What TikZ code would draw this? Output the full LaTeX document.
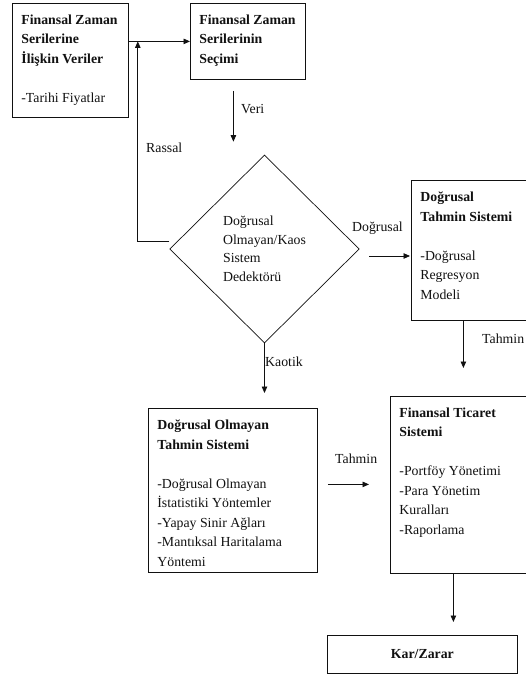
\documentclass[tikz,border=0pt]{standalone}
\usepackage{fontspec}
\setmainfont{Liberation Serif}
\usepackage{tikz}
\usetikzlibrary{positioning,calc,arrows.meta,shapes.geometric}
\definecolor{Ink}{HTML}{111111}
\newcommand{\fz}{\fontsize{13.8}{19.5}\selectfont}
\newcommand{\hd}[1]{{\bfseries #1}}
\newcommand{\bxt}[3]{\parbox[t][#2][t]{#1}{\raggedright #3}}
\tikzset{
  bx/.style={draw=Ink,line width=0.8pt,anchor=north west,inner xsep=9pt,
    inner ysep=11.5pt,font=\fz,text=Ink},
  dm/.style={draw=Ink,line width=0.7pt,diamond,minimum width=189.5pt,
    minimum height=188pt,inner sep=0pt,align=left,
    font=\fontsize{13.8}{18.5}\selectfont,text=Ink},
  flow/.style={-{Triangle[length=6.5pt,width=5.5pt]},draw=Ink,line width=0.8pt},
  lbl/.style={anchor=base west,inner sep=0pt,font=\fz,text=Ink},
}

\begin{document}
\begin{tikzpicture}[x=1pt,y=-1pt]
\useasboundingbox[fill=white] (0,0) rectangle (526,677);

\node[bx] (fzv) at (12,3)
  {\bxt{98pt}{91pt}{\hd{Finansal Zaman\\Serilerine\\İlişkin Veriler}\\[\baselineskip]-Tarihi Fiyatlar}};
\node[bx] (fzs) at (190,3)
  {\bxt{97pt}{53pt}{\hd{Finansal Zaman\\Serilerinin\\Seçimi}}};
\node[dm] (dkd) at (264.5,249)
  {Doğrusal\\Olmayan/Kaos\\Sistem\\Dedektörü};
\node[bx] (dts) at (411,180)
  {\bxt{99pt}{117pt}{\hd{Doğrusal\\Tahmin Sistemi}\\[\baselineskip]-Doğrusal\\Regresyon\\Modeli}};
\node[bx] (dots) at (148,408)
  {\bxt{151pt}{141pt}{\hd{Doğrusal Olmayan\\Tahmin Sistemi}\\[\baselineskip]-Doğrusal Olmayan\\İstatistiki Yöntemler\\-Yapay Sinir Ağları\\-Mantıksal Haritalama\\Yöntemi}};
\node[bx] (fts) at (390,396)
  {\bxt{120pt}{154pt}{\hd{Finansal Ticaret\\Sistemi}\\[\baselineskip]-Portföy Yönetimi\\-Para Yönetim\\Kuralları\\-Raporlama}};
\node[bx,inner sep=0pt,minimum width=190pt,minimum height=38pt,
  font=\fz\bfseries] (kz) at (327,635) {Kar/Zarar};

% connectors
\coordinate (jn) at ($(fzv.east |- fzs.west)+(9,0)$);
\draw[flow] (fzv.east |- fzs.west) -- (fzs.west);
\coordinate (rs) at ($(dkd.west)+(0,-8)$);
\draw[flow] (rs) -| (jn);
\coordinate (v1) at ($(fzs.south)+(-14.5,0)$);
\draw[flow,shorten <=11pt,shorten >=13pt] (v1) -- (v1 |- dkd.north);
\coordinate (dg) at ($(dkd.east)+(0,7)$);
\draw[flow,shorten <=9.5pt,shorten >=1pt] (dg) -- (dg -| dts.west);
\coordinate (t1) at ($(dts.south)+(-6.5,0)$);
\draw[flow,shorten >=28pt] (t1) -- (t1 |- fts.north);
\draw[flow,shorten >=15pt] (dkd.south) -- (dkd.south |- dots.north);
\coordinate (t2) at ($(dots.east)+(0,-6)$);
\draw[flow,shorten <=10pt,shorten >=21pt] (t2) -- (t2 -| fts.west);
\coordinate (t3) at ($(fts.south)+(-6,0)$);
\draw[flow,shorten >=13pt] (t3) -- (t3 |- kz.north);

% labels
\node[lbl] (lv) at (241,113) {Veri};
\node[lbl] (lr) at (146,152) {Rassal};
\node[lbl] (ld) at (352,231) {Doğrusal};
\node[lbl] (lt1) at (482,343) {Tahmin};
\node[lbl] (lk) at (265,366) {Kaotik};
\node[lbl] (lt2) at (335,463) {Tahmin};
\end{tikzpicture}
\end{document}
